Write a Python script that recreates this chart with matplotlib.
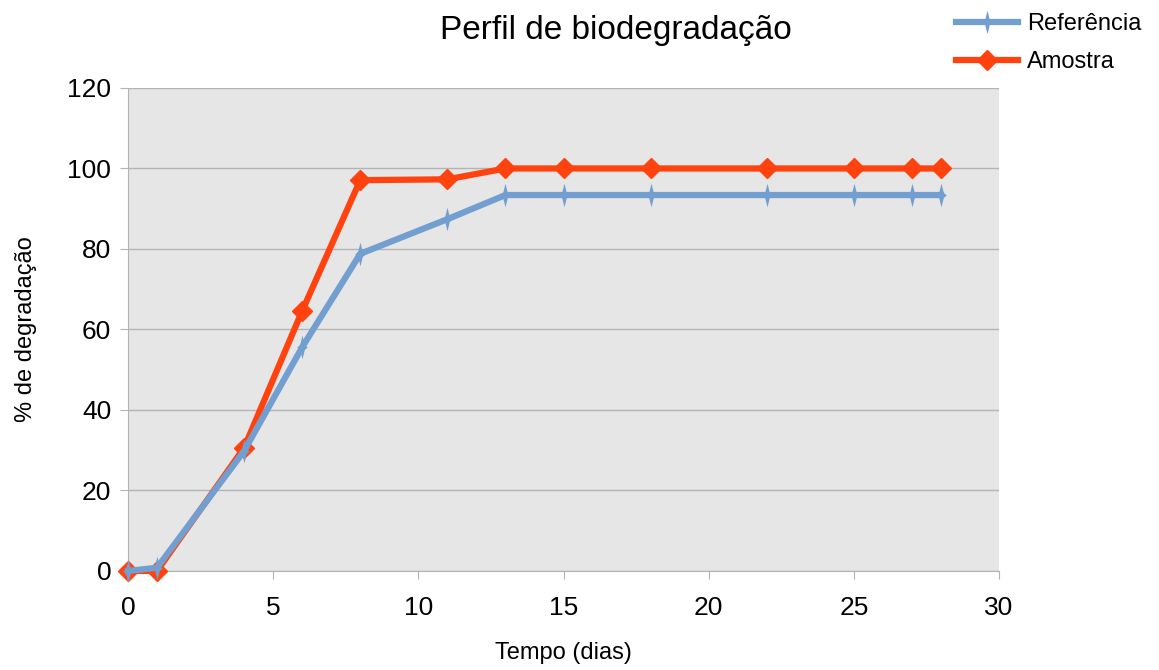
import matplotlib
matplotlib.use("Agg")
import matplotlib.pyplot as plt
from matplotlib.path import Path

plt.rcParams['font.family'] = ['Liberation Sans', 'DejaVu Sans']

dias = [0, 1, 4, 6, 8, 11, 13, 15, 18, 22, 25, 27, 28]
referencia = [0, 0.8, 29.8, 55.6, 78.8, 87.4, 93.4, 93.4, 93.4, 93.4, 93.4, 93.4, 93.4]
amostra = [0, 0, 30.6, 64.6, 97.1, 97.3, 100, 100, 100, 100, 100, 100, 100]

# thin four-point star like the LibreOffice marker
estrela = Path([(0, 1), (0.2, 0.2), (0.45, 0), (0.2, -0.2), (0, -1),
                (-0.2, -0.2), (-0.45, 0), (-0.2, 0.2), (0, 1)])

fig = plt.figure(figsize=(11.59, 6.70), dpi=100)
ax = fig.add_axes([0.1104, 0.1478, 0.7516, 0.7209])
ax.set_facecolor('#e6e6e6')

ax.plot(dias, amostra, color='#ff420e', linewidth=4.5, marker='D', ms=10,
        label='Amostra', zorder=3, clip_on=False)
ax.plot(dias, referencia, color='#729fcf', linewidth=4.5, marker=estrela, ms=17,
        mew=0, label='Referência', zorder=4, clip_on=False)

ax.set_xlim(0, 30)
ax.set_ylim(0, 120)
ax.set_xticks(range(0, 31, 5))
ax.set_yticks(range(0, 121, 20))
ax.yaxis.grid(True, color='#b3b3b3', linewidth=1)
ax.set_axisbelow(True)
for s in ['top', 'right']:
    ax.spines[s].set_visible(False)
for s in ['left', 'bottom']:
    ax.spines[s].set_color('#b3b3b3')
ax.tick_params(axis='both', labelsize=19, color='#b3b3b3', length=6)
ax.tick_params(axis='x', pad=12)
ax.tick_params(axis='y', pad=6)

ax.set_xlabel('Tempo (dias)', fontsize=17, labelpad=16)
ax.set_ylabel('% de degradação', fontsize=17, labelpad=22)
fig.text(0.531, 0.955, 'Perfil de biodegradação', fontsize=24, ha='center', va='center')

h, l = ax.get_legend_handles_labels()
fig.legend(h[::-1], l[::-1], loc='upper right', bbox_to_anchor=(0.997, 1.002),
           frameon=False, fontsize=17, handlelength=2.6, handletextpad=0.4,
           labelspacing=0.7, borderaxespad=0.2)

fig.savefig('out.png', dpi=100)
